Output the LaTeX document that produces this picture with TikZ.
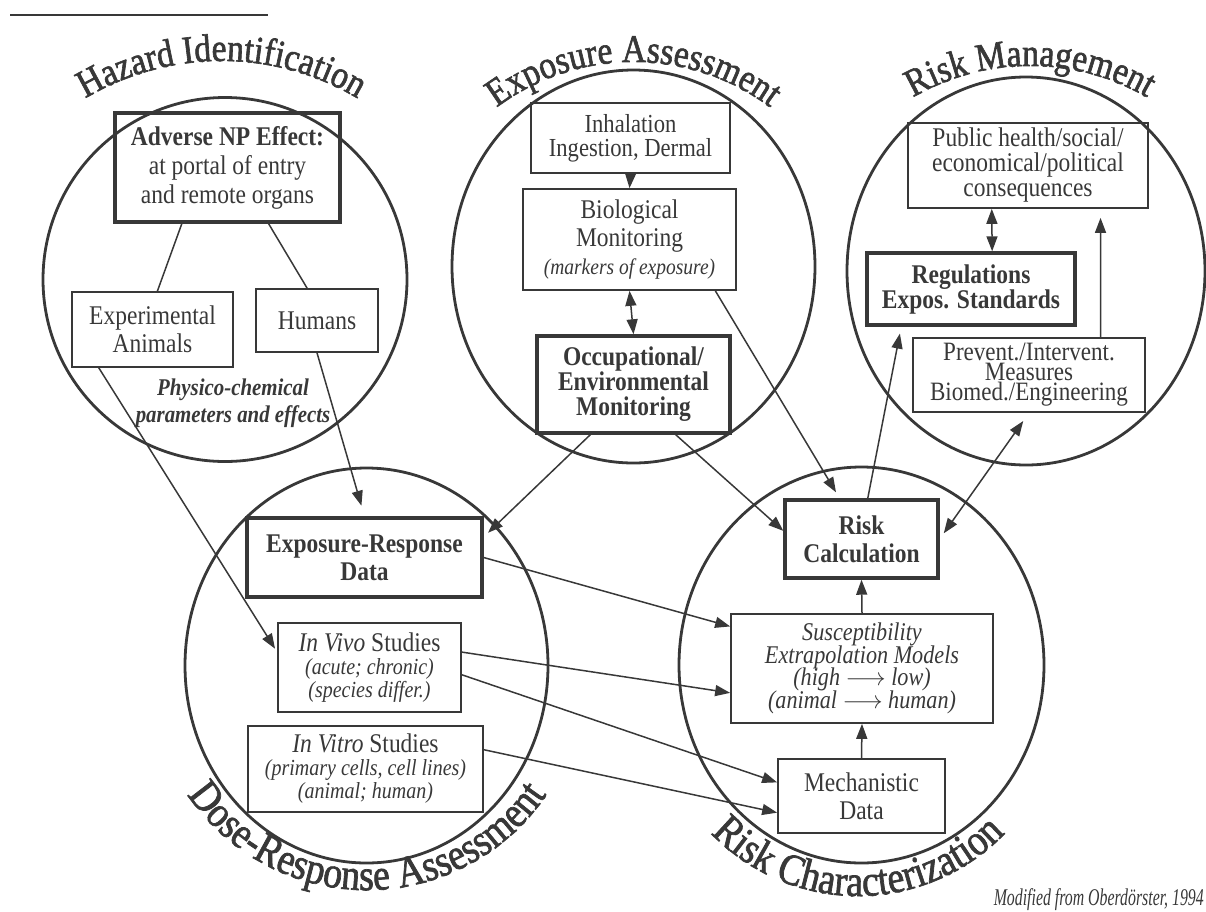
\documentclass[tikz,border=0pt]{standalone}
\usepackage{fontspec}
\setmainfont{Liberation Serif}[FakeStretch=0.87]
\newfontfamily\arcfont{Liberation Serif}[FakeStretch=0.86,FakeBold=1.6]
\newfontfamily\notefont{Liberation Serif}[FakeStretch=0.66]
\usepackage{tikz}
\usetikzlibrary{arrows.meta}
\usetikzlibrary{calc}
\usetikzlibrary{decorations.text}
\usepackage{xcolor}
\definecolor{ink}{gray}{0.22}
\newcommand{\subline}[1]{{\itshape\fontsize{23}{23}\selectfont #1}}
\lineskiplimit=-30pt

\begin{document}
\begin{tikzpicture}[x=1pt,y=1pt,color=ink,
	font=\fontsize{27}{28}\selectfont,
	sphere/.style={line width=2.8pt},
	thinbox/.style={draw,line width=1.7pt,align=center,inner sep=0pt},
	thickbox/.style={draw,line width=3.4pt,align=center,inner sep=0pt,font=\fontsize{27}{27}\selectfont\bfseries},
	link/.style={line width=1.5pt},
	arr/.style={link,-{Triangle[length=15pt,width=11pt]}},
	darr/.style={link,{Triangle[length=15pt,width=11pt]}-{Triangle[length=15pt,width=11pt]}},
	toptitle/.style={decorate,decoration={text along path,text align=center,text color=ink,
		text={|\arcfont\fontsize{39}{39}\selectfont|#1}}},
	bottitle/.style={decorate,decoration={text along path,text align=center,text color=ink,
		text={|\arcfont\fontsize{44}{44}\selectfont|#1}}}]
	
	\useasboundingbox (0,0) rectangle (1206,-911);
	
	% rule at the top left
	\draw[line width=2pt] (10,-15) -- (268,-15);
	
	% the five circles
	\coordinate (hazc) at (225,-279.5);
	\coordinate (expc) at (633.5,-266.5);
	\coordinate (manc) at (1026,-271);
	\coordinate (dosc) at (366.5,-665.5);
	\coordinate (chac) at (861.5,-665);
	\draw[sphere] (hazc) ellipse [x radius=182, y radius=182];
	\draw[sphere] (expc) ellipse [x radius=181.5, y radius=196.5];
	\draw[sphere] (manc) ellipse [x radius=179, y radius=194];
	\draw[sphere] (dosc) ellipse [x radius=181.5, y radius=197.5];
	\draw[sphere] (chac) ellipse [x radius=182.5, y radius=198];
	
	% curved titles
	\coordinate (hazt) at (221.5,-327);
	\coordinate (expt) at (633.5,-290);
	\coordinate (mant) at (1030,-299);
	\coordinate (dost) at (367,-673);
	\coordinate (chat) at (858,-692);
	\path[toptitle=Hazard Identification] ($(hazt)+(150:266)$) arc[start angle=150, end angle=30, radius=266];
	\path[toptitle=Exposure Assessment] ($(expt)+(150:228)$) arc[start angle=150, end angle=30, radius=228];
	\path[toptitle=Risk Management] ($(mant)+(150:233)$) arc[start angle=150, end angle=30, radius=233];
	\path[bottitle=Dose-Response Assessment] ($(dost)+(200:217)$) arc[start angle=200, end angle=340, radius=217];
	\path[bottitle=Risk Characterization] ($(chat)+(200:204)$) arc[start angle=200, end angle=340, radius=204];
	
	% hazard identification
	\node[thickbox, minimum width=225pt, minimum height=109pt, font=\fontsize{27}{29}\selectfont\bfseries] (adverse) at (227.5,-167.5)
		{Adverse NP Effect:\\ \mdseries at portal of entry\\ \mdseries and remote organs};
	\node[thinbox, minimum width=161pt, minimum height=75pt] (animals) at (152.5,-329.5) {Experimental\\Animals};
	\node[thinbox, minimum width=122pt, minimum height=63pt] (humans) at (317,-320.5) {Humans};
	\node[align=center, font=\fontsize{24}{27}\selectfont\bfseries\itshape] (physico) at (233,-403) {Physico-chemical\\parameters and effects};
	\draw[link] ($(adverse.south west)!0.30!(adverse.south east)$) -- ($(animals.north west)!0.53!(animals.north east)$);
	\draw[link] ($(adverse.south west)!0.68!(adverse.south east)$) -- ($(humans.north west)!0.42!(humans.north east)$);
	
	% exposure assessment
	\node[thinbox, minimum width=199pt, minimum height=70pt, font=\fontsize{26}{24}\selectfont] (inhal) at (630.5,-138) {Inhalation\\Ingestion, Dermal};
	\node[thinbox, minimum width=213pt, minimum height=101pt] (bio) at (629.5,-239.5)
		{Biological\\Monitoring\\ {\itshape\fontsize{22.4}{28}\selectfont (markers of exposure)}};
	\node[thickbox, minimum width=193pt, minimum height=97pt, font=\fontsize{27}{25}\selectfont\bfseries] (occup) at (633.5,-384.5)
		{Occupational/\\Environmental\\Monitoring};
	\draw[arr] (inhal.south) -- (bio.north);
	\draw[darr] (bio.south) -- (occup.north);
	
	% risk management
	\node[thinbox, minimum width=240pt, minimum height=85pt, font=\fontsize{27}{25}\selectfont] (public) at (1028,-165.5)
		{Public health/social/\\economical/political\\consequences};
	\node[thickbox, minimum width=208pt, minimum height=72pt, font=\fontsize{27}{25}\selectfont\bfseries] (regul) at (971,-289) {Regulations\\Expos. Standards};
	\node[thinbox, minimum width=232pt, minimum height=74pt, font=\fontsize{26.5}{20}\selectfont] (prevent) at (1029,-375)
		{Prevent./Intervent.\\Measures\\Biomed./Engineering};
	\draw[darr] ($(public.south west)!0.35!(public.south east)$) -- ($(regul.north west)!0.6!(regul.north east)$);
	\draw[arr, shorten >=9pt] ($(prevent.north west)!0.806!(prevent.north east)$) -- ($(public.south west)!0.8!(public.south east)$);
	
	% dose-response assessment
	\node[thickbox, minimum width=235pt, minimum height=79pt, font=\fontsize{27}{28}\selectfont\bfseries] (expresp) at (364.5,-557.5) {Exposure-Response\\Data};
	\node[thinbox, minimum width=183pt, minimum height=89pt, font=\fontsize{27}{23}\selectfont] (invivo) at (369.5,-667.5)
		{{\itshape In Vivo} Studies\\ \subline{(acute; chronic)}\\ \subline{(species differ.)}};
	\node[thinbox, minimum width=235pt, minimum height=86pt, font=\fontsize{27}{23}\selectfont] (invitro) at (365.5,-769)
		{{\itshape In Vitro} Studies\\ \subline{(primary cells, cell lines)}\\ \subline{(animal; human)}};
	
	% risk characterization
	\node[thickbox, minimum width=153pt, minimum height=78pt, font=\fontsize{27}{28}\selectfont\bfseries] (riskcalc) at (861.5,-539) {Risk\\Calculation};
	\node[thinbox, minimum width=262pt, minimum height=109pt, font=\fontsize{25.5}{22.5}\selectfont\itshape] (susc) at (862,-668.5)
		{Susceptibility\\Extrapolation Models\\(high $\longrightarrow$ low)\\(animal $\longrightarrow$ human)};
	\node[thinbox, minimum width=167pt, minimum height=74pt] (mech) at (861.5,-796) {Mechanistic\\Data};
	\draw[arr] (susc.north) -- (riskcalc.south);
	\draw[arr] (mech.north) -- (susc.south);
	
	% links between the circles
	\draw[arr, shorten >=4pt] ($(animals.south west)!0.17!(animals.south east)$) -- ($(invivo.north west)!0.33!(invivo.south west)$);
	\draw[arr, shorten >=11pt] (humans.south) -- (expresp.north);
	\draw[arr, shorten >=6pt] ($(occup.south west)!0.28!(occup.south east)$) -- ($(expresp.north east)!0.25!(expresp.south east)$);
	\draw[arr] ($(occup.south west)!0.715!(occup.south east)$) -- ($(riskcalc.north west)!0.4!(riskcalc.south west)$);
	\draw[arr, shorten >=7pt] ($(bio.south west)!0.9!(bio.south east)$) -- ($(riskcalc.north west)!0.36!(riskcalc.north east)$);
	\draw[arr, shorten >=7pt] ($(riskcalc.north west)!0.54!(riskcalc.north east)$) -- ($(regul.south west)!0.17!(regul.south east)$);
	\draw[darr, shorten <=7pt, shorten >=10pt] (riskcalc.east) -- (prevent.south);
	\draw[arr] (expresp.east) -- ($(susc.north west)!0.12!(susc.south west)$);
	\draw[arr] ($(invivo.north east)!0.33!(invivo.south east)$) -- ($(susc.north west)!0.72!(susc.south west)$);
	\draw[arr] ($(invivo.north east)!0.58!(invivo.south east)$) -- ($(mech.north west)!0.32!(mech.south west)$);
	\draw[arr] ($(invitro.north east)!0.28!(invitro.south east)$) -- ($(mech.north west)!0.72!(mech.south west)$);
	
	% source
	\node[anchor=base east, inner sep=0pt, font=\notefont\itshape\fontsize{24}{24}\selectfont] (source) at (1204,-905) {Modified from Oberdörster, 1994};
	
\end{tikzpicture}
\end{document}
